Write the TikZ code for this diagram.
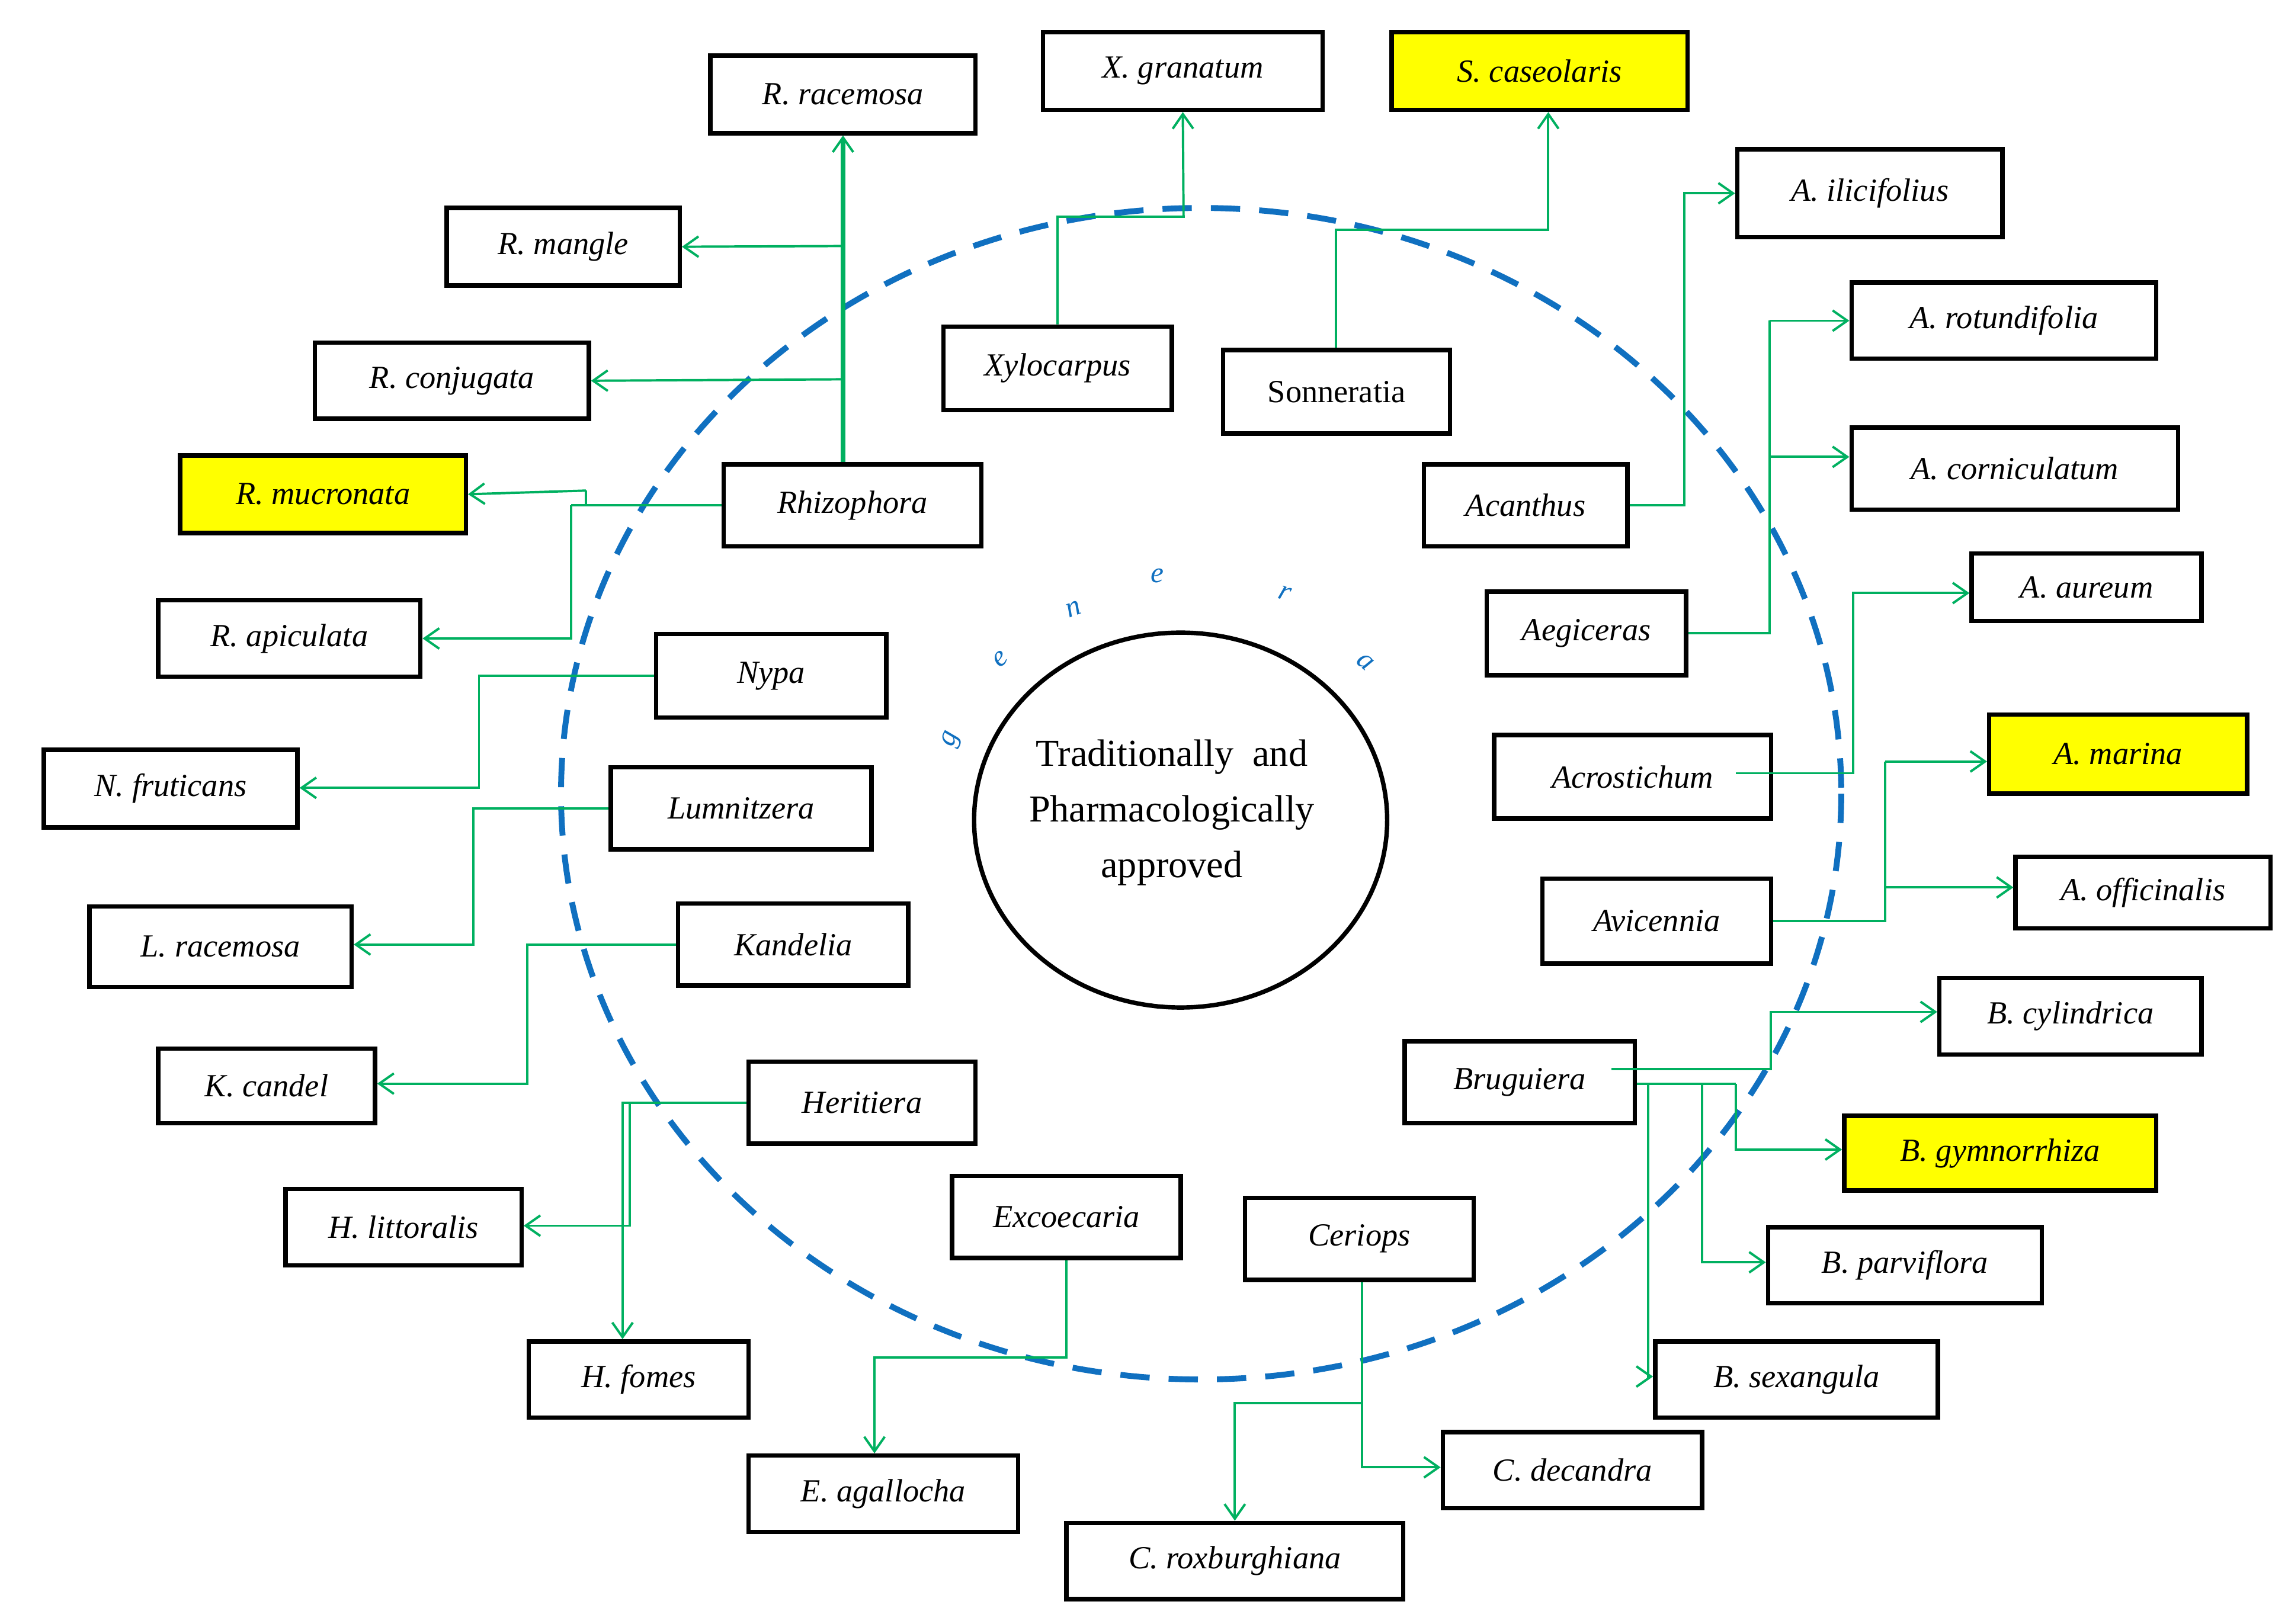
\documentclass[tikz,border=0pt]{standalone}
\usepackage{fontspec}
\setmainfont{Liberation Serif}
\usetikzlibrary{arrows.meta,shapes.geometric}
\definecolor{gr}{HTML}{00B060}
\definecolor{bl}{HTML}{1070C0}
\definecolor{yl}{HTML}{FFFF00}
\tikzset{
 box/.style={draw=black,line width=3pt,inner sep=0pt,font=\fontsize{22}{26}\selectfont\itshape},
 con/.style={draw=gr,line width=1.6pt,-{Straight Barb[length=10pt,width=14pt,line width=1.6pt]}},
 ln/.style={draw=gr,line width=1.6pt},
 gl/.style={text=bl,font=\fontsize{20}{24}\selectfont\itshape}
}
\newcommand\bx[7]{\node[box,#6,minimum width={(#4-#2)*1pt},minimum height={(#5-#3)*1pt}] (#1) at ({(#2+#4)/2},{(#3+#5)/2}) {#7};}
\begin{document}
\begin{tikzpicture}[x=1pt,y=-1pt]
\useasboundingbox (0,0) rectangle (1562,1109);
\draw[bl,line width=4pt,dash pattern=on 20pt off 13pt] (820,542) ellipse [x radius=437,y radius=400];
\node[draw,line width=3pt,ellipse,minimum width=282pt,minimum height=256pt,inner sep=0pt] (C) at (806,560) {};
\node[align=center,font=\fontsize{26}{38}\selectfont] (Ct) at (800,555) {Traditionally\ \ and\\Pharmacologically\\approved};
\node[gl,rotate=70] (g1) at (650,505) {g};
\node[gl,rotate=40] (g2) at (683,450) {e};
\node[gl,rotate=20] (g3) at (733,416) {n};
\node[gl] (g4) at (790,393) {e};
\node[gl,rotate=-20] (g5) at (877,405) {r};
\node[gl,rotate=-40] (g6) at (932,452) {a};
% species
\bx{RRac}{485}{38}{666}{91}{}{R. racemosa}
\bx{XGra}{712}{22}{903}{75}{}{X. granatum}
\bx{SCas}{950}{22}{1152}{75}{fill=yl}{S. caseolaris}
\bx{AIli}{1186}{102}{1367}{162}{}{A. ilicifolius}
\bx{ARot}{1264}{193}{1472}{245}{}{A. rotundifolia}
\bx{ACor}{1264}{292}{1487}{348}{}{A. corniculatum}
\bx{AAur}{1346}{378}{1503}{424}{}{A. aureum}
\bx{AMar}{1358}{488}{1534}{542}{fill=yl}{A. marina}
\bx{AOff}{1376}{585}{1550}{634}{}{A. officinalis}
\bx{BCyl}{1324}{668}{1503}{720}{}{B. cylindrica}
\bx{BGym}{1259}{762}{1472}{813}{fill=yl}{B. gymnorrhiza}
\bx{BPar}{1207}{838}{1394}{890}{}{B. parviflora}
\bx{BSex}{1130}{916}{1323}{968}{}{B. sexangula}
\bx{CDec}{985}{978}{1162}{1030}{}{C. decandra}
\bx{CRox}{728}{1040}{958}{1092}{}{C. roxburghiana}
\bx{EAga}{511}{994}{695}{1046}{}{E. agallocha}
\bx{HFom}{361}{916}{511}{968}{}{H. fomes}
\bx{HLit}{195}{812}{356}{864}{}{H. littoralis}
\bx{KCan}{108}{716}{256}{767}{}{K. candel}
\bx{LRac}{61}{619}{240}{674}{}{L. racemosa}
\bx{NFru}{30}{512}{203}{565}{}{N. fruticans}
\bx{RApi}{108}{410}{287}{462}{}{R. apiculata}
\bx{RMuc}{123}{311}{318}{364}{fill=yl}{R. mucronata}
\bx{RCon}{215}{234}{402}{286}{}{R. conjugata}
\bx{RMan}{305}{142}{464}{195}{}{R. mangle}
% genera
\bx{Rhiz}{494}{317}{670}{373}{}{Rhizophora}
\bx{Xylo}{644}{223}{800}{280}{}{Xylocarpus}
\bx{Sonn}{835}{239}{990}{296}{font=\fontsize{22}{26}\selectfont\upshape}{Sonneratia}
\bx{Acan}{972}{317}{1111}{373}{}{Acanthus}
\bx{Aegi}{1015}{404}{1151}{461}{}{Aegiceras}
\bx{Acro}{1020}{502}{1209}{559}{}{Acrostichum}
\bx{Avic}{1053}{600}{1209}{658}{}{Avicennia}
\bx{Brug}{959}{711}{1116}{767}{}{Bruguiera}
\bx{Ceri}{850}{818}{1006}{874}{}{Ceriops}
\bx{Exco}{650}{803}{806}{859}{}{Excoecaria}
\bx{Heri}{511}{725}{666}{781}{}{Heritiera}
\bx{Kand}{463}{617}{620}{673}{}{Kandelia}
\bx{Lumn}{417}{524}{595}{580}{}{Lumnitzera}
\bx{Nypa}{448}{433}{605}{490}{}{Nypa}
% connectors
\draw[con,line width=3pt] (Rhiz.north -| RRac.south) -- (RRac.south);
\draw[con] (577,168) -- (RMan.east);
\draw[con] (577,259) -- (RCon.east);
\draw[ln] (Rhiz.west) -- (400,345) -- (400,335);
\draw[con] (400,335) -- (RMuc.east);
\draw[ln] (400,345) -- (390,345);
\draw[con] (390,345) |- (RApi.east);
\draw[con] (Xylo.north -| 722,0) |- (808,148) -- (XGra.south);
\draw[con] (Sonn.north -| 912,0) |- (1057,157) -- (SCas.south -| 1057,0);
\draw[con] (Acan.east) -| (1150,132) -- (AIli.west |- 0,132);
\draw[ln] (Aegi.east) -| (1208,219);
\draw[con] (1208,219) -- (ARot.west |- 0,219);
\draw[con] (1208,312) -- (ACor.west |- 0,312);
\draw[con] (1185,528) -| (1265,405) -- (AAur.west |- 0,405);
\draw[ln] (Avic.east) -| (1287,520);
\draw[con] (1287,520) -- (AMar.west |- 0,520);
\draw[con] (1287,606) -- (AOff.west |- 0,606);
\draw[con] (1100,730) -| (1209,691) -- (BCyl.west |- 0,691);
\draw[ln] (Brug.east |- 0,740) -- (1185,740);
\draw[con] (1185,740) |- (BGym.west |- 0,785);
\draw[con] (1162,740) |- (BPar.west |- 0,862);
\draw[con] (1125,740) |- (BSex.west |- 0,940);
\draw[con] (Ceri.south -| 930,0) |- (CDec.west |- 0,1002);
\draw[con] (930,958) -| (CRox.north -| 843,0);
\draw[con] (Exco.south -| 728,0) |- (597,927) -- (EAga.north -| 597,0);
\draw[con] (Heri.west) -| (HFom.north -| 425,0);
\draw[con] (430,753) |- (HLit.east |- 0,837);
\draw[con] (Kand.west) -| (360,740) -- (KCan.east |- 0,740);
\draw[con] (Lumn.west) -| (323,645) -- (LRac.east |- 0,645);
\draw[con] (Nypa.west) -| (327,538) -- (NFru.east |- 0,538);
\end{tikzpicture}
\end{document}
